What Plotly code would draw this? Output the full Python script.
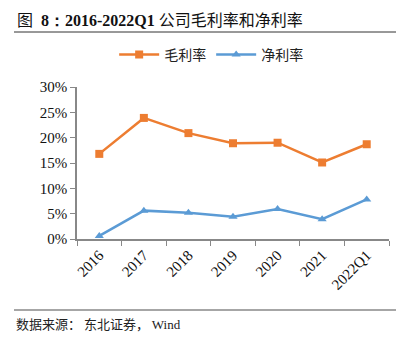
import plotly.graph_objects as go

categories = ["2016", "2017", "2018", "2019", "2020", "2021", "2022Q1"]
gross_margin = [16.8, 23.9, 20.9, 18.9, 19.0, 15.1, 18.7]
net_margin = [0.6, 5.6, 5.2, 4.4, 5.9, 3.9, 7.8]
y_ticks = [0, 5, 10, 15, 20, 25, 30]
y_tick_labels = [f"{v}%" for v in y_ticks]

W, H = 417, 345
L, R, T, B = 77, 28, 87, 106
pw, ph = W - L - R, H - T - B

def px_x(x):
    return (x - L) / pw

def px_y(y):
    return (H - B - y) / ph

fig = go.Figure()
fig.add_trace(go.Scatter(
    x=categories, y=gross_margin, name="毛利率", mode="lines+markers",
    line=dict(color="#ED7D31", width=2.5),
    marker=dict(symbol="square", size=8, color="#ED7D31"),
))
fig.add_trace(go.Scatter(
    x=categories, y=net_margin, name="净利率", mode="lines+markers",
    line=dict(color="#5B9BD5", width=2.5),
    marker=dict(symbol="triangle-up", size=8, color="#5B9BD5"),
))

serif = "Liberation Serif, Times New Roman, serif"
cjk = "Noto Sans CJK SC"

fig.update_layout(
    width=W, height=H,
    margin=dict(l=L, r=R, t=T, b=B),
    paper_bgcolor="white", plot_bgcolor="white",
    showlegend=True,
    legend=dict(orientation="h", x=0.43, y=px_y(55), xanchor="center", yanchor="middle",
                font=dict(family=cjk, size=14, color="#222"),
                itemwidth=40, traceorder="normal"),
    xaxis=dict(
        type="category", showgrid=False, showline=True, linecolor="#888", linewidth=1.5,
        ticks="outside", tickson="boundaries", ticklen=5, tickcolor="#888",
        tickangle=-45, tickfont=dict(family=serif, size=15, color="#111"),
        range=[-0.5, 6.5],
    ),
    yaxis=dict(
        range=[0, 30], tickvals=y_ticks, ticktext=y_tick_labels,
        showgrid=False, showline=True, linecolor="#888", linewidth=1.5,
        ticks="outside", ticklen=5, tickcolor="#888", zeroline=False,
        tickfont=dict(family=serif, size=15, color="#111"),
    ),
    shapes=[
        dict(type="line", xref="paper", yref="paper", x0=px_x(14), x1=px_x(396),
             y0=px_y(32), y1=px_y(32), line=dict(color="#333", width=1)),
        dict(type="line", xref="paper", yref="paper", x0=px_x(14), x1=px_x(396),
             y0=px_y(310), y1=px_y(310), line=dict(color="#888", width=1.5)),
    ],
    annotations=[
        dict(xref="paper", yref="paper", x=px_x(15), y=px_y(19), xanchor="left", yanchor="middle",
             showarrow=False,
             text=f"<span style='font-family:{cjk}'>图</span>  <b>8：2016-2022Q1</b> <span style='font-family:{cjk}'>公司毛利率和净利率</span>",
             font=dict(family=serif, size=16, color="#111")),
        dict(xref="paper", yref="paper", x=px_x(14), y=px_y(323), xanchor="left", yanchor="middle",
             showarrow=False,
             text=f"<span style='font-family:{cjk}'>数据来源： 东北证券， </span>Wind",
             font=dict(family=serif, size=13, color="#222")),
    ],
)

fig.write_html("out.html")
